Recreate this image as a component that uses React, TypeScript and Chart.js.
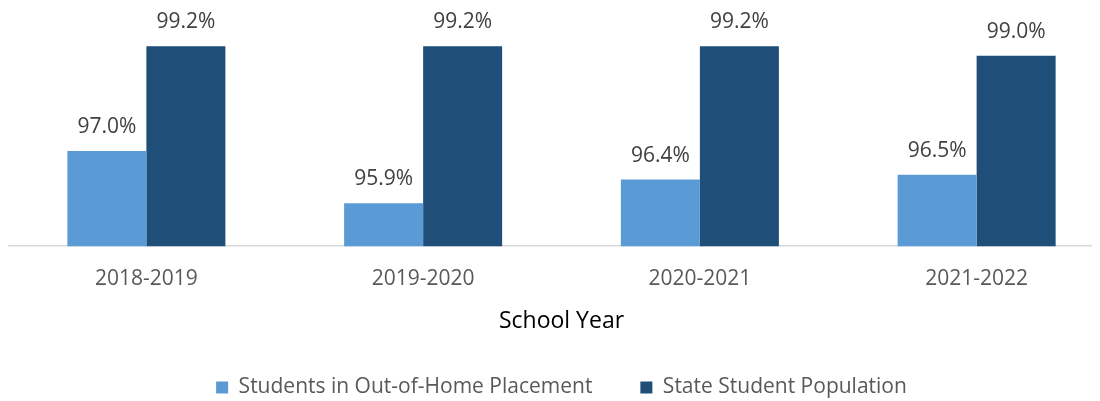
import React, { useEffect, useRef } from "react";
import { Chart, registerables } from "chart.js";

Chart.register(...registerables);

const categories = ["2018-2019", "2019-2020", "2020-2021", "2021-2022"];
const outOfHome = [97.0, 95.9, 96.4, 96.5];
const statePop = [99.2, 99.2, 99.2, 99.0];
const seriesNames = ["Students in Out-of-Home Placement", "State Student Population"];
const axisTitle = "School Year";

const FONT = "'Open Sans', 'Noto Sans', sans-serif";

const valueLabels = {
  id: "valueLabels",
  afterDatasetsDraw(chart: any) {
    const ctx = chart.ctx;
    ctx.save();
    ctx.font = `21px ${FONT}`;
    ctx.fillStyle = "#404040";
    ctx.textAlign = "center";
    ctx.textBaseline = "alphabetic";
    chart.data.datasets.forEach((ds: any, di: number) => {
      const meta = chart.getDatasetMeta(di);
      meta.data.forEach((bar: any, i: number) => {
        const v = ds.data[i];
        ctx.fillText(v.toFixed(1) + "%", bar.x, bar.y - 18);
      });
    });
    ctx.restore();
  },
};

export default function App() {
  const ref = useRef<HTMLCanvasElement | null>(null);
  useEffect(() => {
    if (!ref.current) return;
    const chart = new Chart(ref.current, {
      type: "bar",
      data: {
        labels: categories,
        datasets: [
          {
            label: seriesNames[0],
            data: outOfHome,
            backgroundColor: "#5B9BD5",
            borderWidth: 0,
          },
          {
            label: seriesNames[1],
            data: statePop,
            backgroundColor: "#1F4E79",
            borderWidth: 0,
          },
        ],
      },
      options: {
        animation: false,
        responsive: false,
        devicePixelRatio: 1,
        layout: { padding: { top: 24, left: 0, right: 0, bottom: -7 } },
        datasets: { bar: { categoryPercentage: 0.571, barPercentage: 1 } },
        scales: {
          x: {
            grid: { display: false, drawTicks: false },
            border: { display: true, color: "#D9D9D9", width: 1.5 },
            ticks: { color: "#595959", font: { family: FONT, size: 21 }, padding: 20 },
            title: {
              display: true,
              text: axisTitle,
              color: "#000000",
              font: { family: FONT, size: 23 },
              padding: { top: -4, bottom: -6 },
            },
          },
          y: {
            display: false,
            min: 95,
            max: 99.5,
          },
        },
        plugins: {
          legend: {
            position: "bottom",
            labels: {
              boxWidth: 12,
              boxHeight: 12,
              color: "#595959",
              font: { family: FONT, size: 21 },
              padding: 48,
            },
          },
          tooltip: { enabled: false },
        },
      },
      plugins: [valueLabels],
    });
    return () => chart.destroy();
  }, []);
  return (
    <div style={{ width: 1092, height: 393, overflow: "hidden" }}>
      <canvas ref={ref} width={1107} height={393} style={{ display: "block" }} />
    </div>
  );
}
